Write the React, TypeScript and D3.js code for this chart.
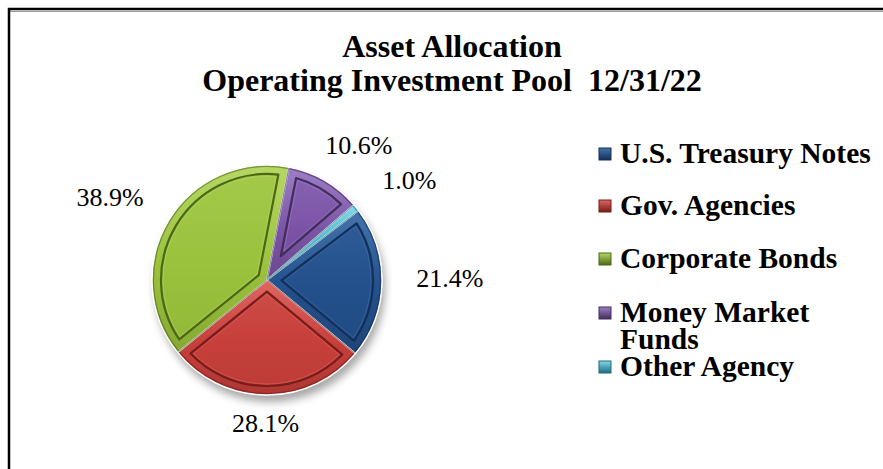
import React from "react";
import * as d3 from "d3";

const categories = ["U.S. Treasury Notes", "Gov. Agencies", "Corporate Bonds", "Money Market Funds", "Other Agency"];
const values = [21.4, 28.1, 38.9, 10.6, 1.0];
const legendLines = [["U.S. Treasury Notes"], ["Gov. Agencies"], ["Corporate Bonds"], ["Money Market", "Funds"], ["Other Agency"]];
const titleLines = ["Asset Allocation", "Operating Investment Pool  12/31/22"];

const baseColors = ["#23508A", "#C63F3B", "#9AC23C", "#7B54A6", "#3DB6CE"];
const darkColors = ["#12305A", "#781C19", "#4C6816", "#422D5C", "#1C6C7E"];
const lightColors = ["#4574AD", "#E06662", "#B6D765", "#9E80C6", "#84D8E8"];

const W = 883, H = 469;
const cx = 267, cy = 280, R = 115;
const startDeg = 52.8;
const inset = 9;
const SERIF = "'Liberation Serif', 'Times New Roman', Times, serif";

function insetPath(a0: number, a1: number, r: number, d: number): string | null {
  const span = a1 - a0;
  if (span < 0.3) return null;
  const half = span / 2, mid = (a0 + a1) / 2;
  const apexDist = d / Math.sin(half);
  const r2 = r - d;
  const off = Math.asin(d / r2);
  const b0 = a0 + off, b1 = a1 - off;
  const p = d3.path();
  p.moveTo(apexDist * Math.sin(mid), -apexDist * Math.cos(mid));
  p.lineTo(r2 * Math.sin(b0), -r2 * Math.cos(b0));
  p.arc(0, 0, r2, b0 - Math.PI / 2, b1 - Math.PI / 2, false);
  p.closePath();
  return p.toString();
}

export default function App() {
  const start = (startDeg * Math.PI) / 180;
  const pie = d3.pie<number>().sort(null).value((d) => d).startAngle(start).endAngle(start + 2 * Math.PI);
  const arcs = pie(values);
  const arcGen = d3.arc<d3.PieArcDatum<number>>().innerRadius(0).outerRadius(R);
  const rimGen = d3.arc<d3.PieArcDatum<number>>().innerRadius(0).outerRadius(R - 1.5);
  const rx = R + 68, ry = R + 34, labelShift = -6;

  const legendX = 599;
  const legendBaselines = [163, 215, 268, 322, 376];
  const legendLineGap = 27;

  return (
    <div style={{ position: "absolute", left: 0, top: 0 }}>
      <svg width={W} height={H} style={{ display: "block" }}>
        <defs>
          <filter id="shadow" x="-20%" y="-20%" width="140%" height="140%">
            <feGaussianBlur stdDeviation="4" />
          </filter>
          {baseColors.map((c, i) => (
            <linearGradient key={i} id={`g${i}`} x1="0" y1="0" x2="0" y2="1">
              <stop offset="0%" stopColor={lightColors[i]} />
              <stop offset="55%" stopColor={c} />
              <stop offset="100%" stopColor={d3.color(c)!.darker(0.4).toString()} />
            </linearGradient>
          ))}
          {baseColors.map((c, i) => (
            <linearGradient key={`l${i}`} id={`lg${i}`} x1="0" y1="0" x2="0" y2="1">
              <stop offset="0%" stopColor={lightColors[i]} />
              <stop offset="100%" stopColor={darkColors[i]} />
            </linearGradient>
          ))}
        </defs>
        <rect x={0} y={0} width={W} height={H} fill="#fff" />
        <line x1={9} y1={11.5} x2={W} y2={11.5} stroke="#999" strokeWidth={1} />
        <rect x={9} y={9} width={W + 20} height={H + 20} fill="none" stroke="#000" strokeWidth={2.5} />

        {titleLines.map((t, i) => (
          <text key={i} x={452} y={57 + i * 34} textAnchor="middle" fontFamily={SERIF} fontWeight="bold" fontSize={32} fill="#000" style={{ whiteSpace: "pre" }}>
            {t}
          </text>
        ))}

        <g transform={`translate(${cx},${cy})`}>
          <circle cx={3} cy={7} r={R} fill="#000" opacity={0.35} filter="url(#shadow)" />
          {arcs.map((a, i) => (
            <g key={i}>
              <path d={arcGen(a) || ""} fill={`url(#g${i})`} stroke="#fff" strokeWidth={1.5} strokeLinejoin="round" />
              <path d={rimGen(a) || ""} fill="none" stroke={darkColors[i]} strokeOpacity={0.6} strokeWidth={1.2} />
              {insetPath(a.startAngle, a.endAngle, R, inset) && (
                <>
                  <path d={insetPath(a.startAngle, a.endAngle, R, inset)!} fill={baseColors[i]} fillOpacity={0.6} stroke={darkColors[i]} strokeWidth={2.2} strokeLinejoin="round" />
                  <path d={insetPath(a.startAngle, a.endAngle, R, inset + 2)!} fill="none" stroke={lightColors[i]} strokeOpacity={0.5} strokeWidth={1} />
                </>
              )}
            </g>
          ))}
          {arcs.map((a, i) => {
            const m = (a.startAngle + a.endAngle) / 2;
            return (
              <text key={`t${i}`} x={rx * Math.sin(m)} y={-ry * Math.cos(m) + labelShift} dy="0.35em" textAnchor="middle" fontFamily={SERIF} fontSize={26} fill="#000">
                {`${values[i].toFixed(1)}%`}
              </text>
            );
          })}
        </g>

        {legendLines.map((lines, i) => (
          <g key={i}>
            <rect x={legendX} y={legendBaselines[i] - 15} width={12} height={12} fill={`url(#lg${i})`} stroke={darkColors[i]} strokeWidth={1} />
            {lines.map((ln, j) => (
              <text key={j} x={legendX + 21} y={legendBaselines[i] + j * legendLineGap} fontFamily={SERIF} fontWeight="bold" fontSize={29.5} fill="#000">
                {ln}
              </text>
            ))}
          </g>
        ))}
      </svg>
    </div>
  );
}
